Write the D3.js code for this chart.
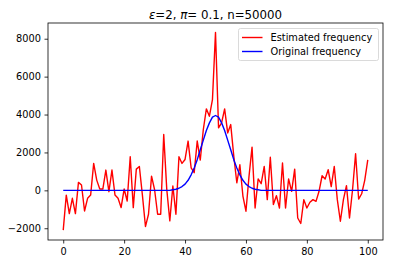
<!DOCTYPE html>
<html>
<head>
<meta charset="utf-8">
<script src="https://cdn.jsdelivr.net/npm/d3@7"></script>
<style>
  body { margin: 0; background: #fff; }
  text { font-family: "DejaVu Sans", sans-serif; }
</style>
</head>
<body>
<div class="chart"></div>
<script>
// values
const xs = d3.range(0, 101);
const estimated = [
  -2100, -250, -1230, -420, -1230, 420, 280, -1090, -420, -250,
  1420, 540, 70, 70, 1070, -70, 1070, -250, -420, -910,
  70, -560, 1770, -910, 1120, 1260, -250, -1910, -1260, 750,
  30, -1260, -1260, 2950, 50, -1610, 230, -1260, 1770, 1420,
  1630, 2600, 1190, 930, 2600, 1600, 3210, 4300, 3910, 4790,
  8330, 3300, 3560, 4300, 3030, 3470, 1810, 400, 1350, -300,
  -1100, 740, 2280, -930, 600, 350, 1260, -490, 1750, -750,
  -280, -930, 1440, -930, 600, -50, 1120, -1460, -1750, -490,
  -930, -630, -490, -580, -50, 770, 600, 1090, 200, 1260,
  -490, -1630, -490, 250, -1460, 30, 1930, -460, -180, 530,
  1610
];
const original = [
  0, 0, 0, 0, 0, 0, 0, 0, 0, 0,
  0, 0, 0, 0, 0, 0, 0, 0, 0, 0,
  0, 0, 0, 0, 0, 0, 0, 0, 0, 0,
  0, 0, 0, 0, 0, 0, 30, 60, 110, 200,
  330, 530, 820, 1180, 1620, 2140, 2650, 3160, 3560, 3860,
  3950, 3860, 3560, 3160, 2650, 2140, 1620, 1180, 820, 530,
  330, 200, 110, 60, 30, 0, 0, 0, 0, 0,
  0, 0, 0, 0, 0, 0, 0, 0, 0, 0,
  0, 0, 0, 0, 0, 0, 0, 0, 0, 0,
  0, 0, 0, 0, 0, 0, 0, 0, 0, 0,
  0
];
const xTicks = [0, 20, 40, 60, 80, 100];
const yTicks = [-2000, 0, 2000, 4000, 6000, 8000];
const seriesNames = ["Estimated frequency", "Original frequency"];
const seriesColors = ["#ff0000", "#0000ff"];

var width = 393, height = 265;
var margin = { top: 23, left: 48, right: 10, bottom: 25 };

var svg = d3.select(".chart").append("svg")
  .attr("width", width).attr("height", height);

var x = d3.scaleLinear().domain([-5, 105]).range([margin.left, width - margin.right]);
var y = d3.scaleLinear().domain([-2620, 8830]).range([height - margin.bottom, margin.top]);

// lines
var line = d3.line().x((d, i) => x(xs[i])).y(d => y(d));
[estimated, original].forEach(function (s, k) {
  svg.append("path")
    .datum(s)
    .attr("d", line)
    .attr("fill", "none")
    .attr("stroke", seriesColors[k])
    .attr("stroke-width", 1.4)
    .attr("stroke-linejoin", "round");
});

// axes
var xAxis = svg.append("g")
  .attr("transform", "translate(0," + (height - margin.bottom) + ")")
  .call(d3.axisBottom(x).tickValues(xTicks).tickSize(3.5).tickPadding(5));
var yAxis = svg.append("g")
  .attr("transform", "translate(" + margin.left + ",0)")
  .call(d3.axisLeft(y).tickValues(yTicks).tickSize(3.5).tickPadding(3.5)
    .tickFormat(d => d < 0 ? "\u2212" + Math.abs(d) : d));
[xAxis, yAxis].forEach(function (a) {
  a.select(".domain").remove();
  a.selectAll("line").attr("stroke", "#000").attr("stroke-width", 0.8);
  a.selectAll("text").attr("font-size", 9.8).attr("fill", "#000")
    .attr("font-family", "DejaVu Sans");
});

// frame
svg.append("rect")
  .attr("x", margin.left).attr("y", margin.top)
  .attr("width", width - margin.left - margin.right)
  .attr("height", height - margin.top - margin.bottom)
  .attr("fill", "none").attr("stroke", "#000").attr("stroke-width", 0.8);

// title
svg.append("text")
  .attr("x", (margin.left + width - margin.right) / 2).attr("y", 19)
  .attr("text-anchor", "middle").attr("font-size", 11.8)
  .html('<tspan font-style="italic">\u03b5</tspan>=2, <tspan font-style="italic">\u03c0</tspan>= 0.1, n=50000');

// legend
var lg = svg.append("g").attr("transform", "translate(238.5,28.5)");
lg.append("rect")
  .attr("width", 140).attr("height", 32).attr("rx", 2)
  .attr("fill", "#fff").attr("fill-opacity", 0.8)
  .attr("stroke", "#d0d0d0").attr("stroke-width", 0.8);
seriesNames.forEach(function (n, k) {
  var yy = 9 + k * 14;
  lg.append("line").attr("x1", 3.5).attr("x2", 24).attr("y1", yy).attr("y2", yy)
    .attr("stroke", seriesColors[k]).attr("stroke-width", 1.4);
  lg.append("text").attr("x", 32).attr("y", yy + 3.5)
    .attr("font-size", 9.8).text(n);
});
</script>
</body>
</html>
